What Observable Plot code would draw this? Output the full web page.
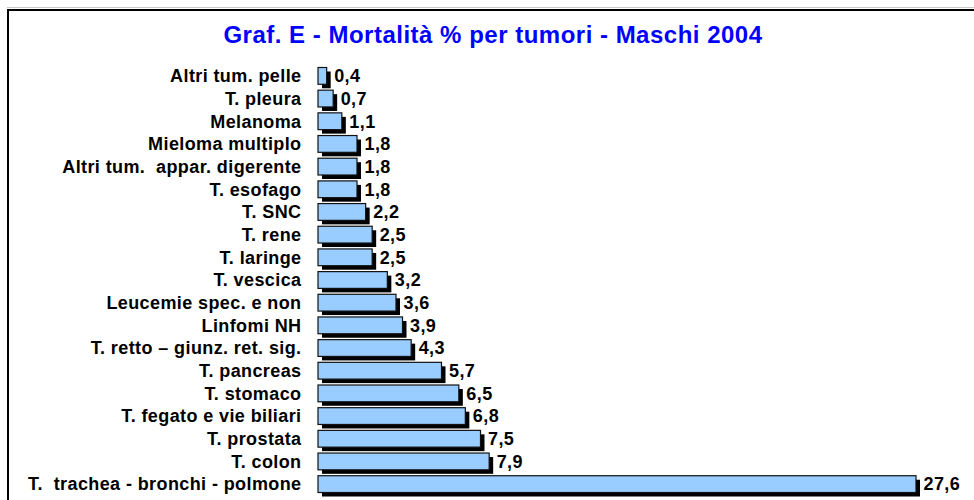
<!DOCTYPE html>
<html>
<head>
<meta charset="utf-8">
<script src="https://cdn.jsdelivr.net/npm/d3@7"></script>
<script src="https://cdn.jsdelivr.net/npm/@observablehq/plot@0.6"></script>
<style>
  html, body { margin: 0; padding: 0; background: #fff; overflow: hidden; width: 974px; height: 500px; }
  #wrap { position: relative; width: 974px; height: 500px; overflow: hidden; font-family: "Liberation Sans", Arial, sans-serif; }
  #grayline { position: absolute; left: 7px; top: 7px; width: 1100px; border-top: 1px solid #c8c8c8; }
  #frame { position: absolute; left: 7px; top: 9px; width: 1100px; height: 700px; border-left: 2px solid #000; border-top: 2px solid #000; }
  #title { position: absolute; left: 0; top: 23px; width: 986px; text-align: center; font-size: 24px; line-height: 24px; font-weight: bold; color: #0000ff; letter-spacing: 0.5px; white-space: pre; }
  #chart { position: absolute; left: 0; top: 55px; }
  #chart svg { white-space: pre; letter-spacing: 0.4px; }
</style>
</head>
<body>
<div id="wrap">
  <div id="grayline"></div>
  <div id="frame"></div>
  <div id="title">Graf. E - Mortalità % per tumori - Maschi 2004</div>
  <div id="chart"></div>
</div>
<script>
const categories = [
  "Altri tum. pelle",
  "T. pleura",
  "Melanoma",
  "Mieloma multiplo",
  "Altri tum.  appar. digerente",
  "T. esofago",
  "T. SNC",
  "T. rene",
  "T. laringe",
  "T. vescica",
  "Leucemie spec. e non",
  "Linfomi NH",
  "T. retto – giunz. ret. sig.",
  "T. pancreas",
  "T. stomaco",
  "T. fegato e vie biliari",
  "T. prostata",
  "T. colon",
  "T.  trachea - bronchi - polmone"
];
const values = [0.4, 0.7, 1.1, 1.8, 1.8, 1.8, 2.2, 2.5, 2.5, 3.2, 3.6, 3.9, 4.3, 5.7, 6.5, 6.8, 7.5, 7.9, 27.6];

const data = categories.map((c, i) => ({category: c, value: values[i]}));
const fmt = v => v.toFixed(1).replace(".", ",");

const font = {fontFamily: "Liberation Sans, Arial, sans-serif", fontWeight: "bold", fontSize: 18};

const chart = Plot.plot({
  width: 974,
  height: 445,
  marginLeft: 0,
  marginRight: 0,
  marginTop: 0,
  marginBottom: 0,
  style: {background: "transparent", fontFamily: "Liberation Sans, Arial, sans-serif", overflow: "visible", letterSpacing: "0.4px"},
  x: {domain: [0, 27.6], range: [318, 916], axis: null},
  y: {domain: categories, range: [6.6, 443.4], padding: 0.26, round: false, axis: null},
  marks: [
    Plot.barX(data, {x: "value", y: "category", fill: "#000", dx: 4, dy: 4}),
    Plot.barX(data, {x: "value", y: "category", fill: "#99ccff", stroke: "#111", strokeWidth: 1.2}),
    Plot.text(data, {x: 0, y: "category", text: "category", textAnchor: "end", dx: -17, fill: "#000", ...font}),
    Plot.text(data, {x: "value", y: "category", text: d => fmt(d.value), textAnchor: "start", dx: 7, fill: "#000", ...font})
  ]
});
document.getElementById("chart").appendChild(chart);
</script>
</body>
</html>
